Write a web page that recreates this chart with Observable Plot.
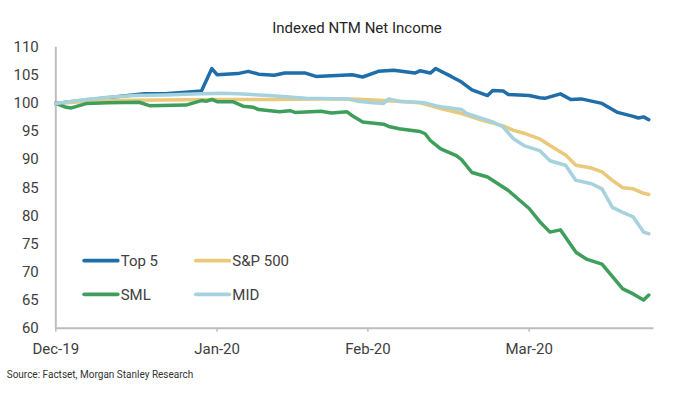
<!DOCTYPE html>
<html>
<head>
<meta charset="utf-8">
<script src="https://cdn.jsdelivr.net/npm/d3@7"></script>
<script src="https://cdn.jsdelivr.net/npm/@observablehq/plot@0.6"></script>
<style>
  html, body { margin: 0; padding: 0; background: #fff; }
  #chart { width: 680px; height: 394px; }
</style>
</head>
<body>
<div id="chart"></div>
<script>
// ---- Data ----
const seriesNames = ["Top 5", "S&P 500", "SML", "MID"];
const seriesColors = ["#1f6ea9", "#e9c97a", "#3e9e5c", "#a6d2dd"];

const top5Dates = ["2019-12-31","2020-01-05","2020-01-10","2020-01-13","2020-01-17","2020-01-21","2020-01-25","2020-01-28","2020-01-30","2020-01-31","2020-02-04","2020-02-06","2020-02-08","2020-02-11","2020-02-13","2020-02-17","2020-02-19","2020-02-24","2020-02-26","2020-02-28","2020-03-02","2020-03-05","2020-03-09","2020-03-10","2020-03-12","2020-03-13","2020-03-16","2020-03-18","2020-03-20","2020-03-23","2020-03-24","2020-03-26","2020-03-27","2020-03-31","2020-04-02","2020-04-03","2020-04-06","2020-04-08","2020-04-10","2020-04-14","2020-04-17","2020-04-20","2020-04-21","2020-04-22","2020-04-23"];
const top5Values = [100.0,100.5,101.0,101.3,101.7,101.7,102.0,102.2,106.2,105.1,105.3,105.7,105.2,105.0,105.4,105.4,104.8,105.0,105.1,104.7,105.7,105.9,105.4,105.8,105.4,106.2,104.8,103.8,102.4,101.4,102.3,102.2,101.6,101.4,101.0,100.9,101.7,100.7,100.8,100.0,98.4,97.7,97.4,97.6,97.1];

const spxDates = ["2019-12-31","2020-01-05","2020-01-10","2020-01-20","2020-01-31","2020-02-10","2020-02-20","2020-02-26","2020-03-03","2020-03-10","2020-03-14","2020-03-18","2020-03-22","2020-03-26","2020-03-28","2020-03-30","2020-04-02","2020-04-04","2020-04-07","2020-04-09","2020-04-12","2020-04-14","2020-04-16","2020-04-18","2020-04-20","2020-04-22","2020-04-23"];
const spxValues = [100.0,100.3,100.5,100.6,100.7,100.7,100.8,100.8,100.5,100.1,99.1,98.2,97.0,96.0,95.2,94.7,93.7,92.5,90.8,89.0,88.5,87.8,86.3,85.0,84.8,84.0,83.8];

const smlDates = ["2019-12-31","2020-01-02","2020-01-03","2020-01-06","2020-01-10","2020-01-16","2020-01-18","2020-01-25","2020-01-28","2020-01-29","2020-01-30","2020-01-31","2020-02-03","2020-02-05","2020-02-07","2020-02-08","2020-02-12","2020-02-14","2020-02-15","2020-02-20","2020-02-22","2020-02-25","2020-02-26","2020-02-28","2020-03-03","2020-03-04","2020-03-06","2020-03-10","2020-03-11","2020-03-12","2020-03-14","2020-03-17","2020-03-18","2020-03-20","2020-03-23","2020-03-27","2020-03-31","2020-04-02","2020-04-04","2020-04-06","2020-04-09","2020-04-11","2020-04-14","2020-04-18","2020-04-20","2020-04-22","2020-04-23"];
const smlValues = [100.0,99.3,99.2,100.0,100.1,100.2,99.6,99.7,100.5,100.4,100.7,100.3,100.3,99.5,99.3,98.9,98.5,98.7,98.4,98.6,98.3,98.5,97.8,96.7,96.3,95.9,95.5,95.0,94.6,93.4,91.9,90.7,90.0,87.7,86.9,84.5,81.3,79.0,77.1,77.5,73.5,72.3,71.4,67.0,66.1,65.0,65.9];

const midDates = ["2019-12-31","2020-01-05","2020-01-10","2020-01-15","2020-01-21","2020-01-28","2020-02-01","2020-02-04","2020-02-10","2020-02-17","2020-02-25","2020-02-27","2020-03-01","2020-03-03","2020-03-04","2020-03-06","2020-03-11","2020-03-13","2020-03-14","2020-03-18","2020-03-19","2020-03-24","2020-03-26","2020-03-28","2020-03-30","2020-04-02","2020-04-04","2020-04-07","2020-04-09","2020-04-12","2020-04-14","2020-04-16","2020-04-18","2020-04-20","2020-04-22","2020-04-23"];
const midValues = [100.0,100.6,101.1,101.4,101.5,101.7,101.8,101.7,101.4,100.9,100.8,100.4,100.1,100.0,100.8,100.4,100.1,99.6,99.4,98.9,98.2,96.7,95.8,93.7,92.5,91.6,89.8,89.0,86.3,85.7,84.8,81.5,80.6,79.8,77.1,76.8];

const xDomain = ["2019-12-31", "2020-04-24"];
const xTickDates = ["2019-12-31", "2020-01-31", "2020-02-29", "2020-03-31"];
const yTicks = [60, 65, 70, 75, 80, 85, 90, 95, 100, 105, 110];
const yDomain = [60, 110];

const titleText = "Indexed NTM Net Income";
const sourceText = "Source: Factset, Morgan Stanley Research";

// ---- Build table ----
const parse = d3.utcParse("%Y-%m-%d");
const seriesDates = [top5Dates, spxDates, smlDates, midDates];
const seriesValues = [top5Values, spxValues, smlValues, midValues];
const data = [];
seriesNames.forEach((name, i) => {
  seriesDates[i].forEach((d, j) => data.push({series: name, date: parse(d), value: seriesValues[i][j]}));
});

const fmt = d3.utcFormat("%b-%y");
const font = "Roboto, 'Noto Sans', sans-serif";
const axisColor = "#bdbdbd";
const textColor = "#404040";

const chart = Plot.plot({
  width: 680,
  height: 394,
  marginLeft: 55.3,
  marginRight: 26.5,
  marginTop: 46.7,
  marginBottom: 66.3,
  style: {fontFamily: font, fontSize: "15px", color: textColor, background: "#fff", overflow: "visible"},
  x: {type: "utc", domain: xDomain.map(parse)},
  y: {domain: yDomain},
  color: {domain: seriesNames, range: seriesColors},
  marks: [
    Plot.ruleY([yDomain[0]], {stroke: axisColor, strokeWidth: 2}),
    Plot.ruleX([parse(xDomain[0])], {y1: yDomain[0], y2: yDomain[1], stroke: axisColor, strokeWidth: 2}),
    Plot.axisY({ticks: yTicks, tickSize: 0, tickPadding: 17, label: null, fill: textColor, fontSize: 15}),
    Plot.axisX({ticks: xTickDates.map(parse), tickFormat: fmt, tickSize: 4, tickPadding: 11, stroke: axisColor, strokeWidth: 1.5, label: null, fill: textColor, fontSize: 15}),
    Plot.lineY(data, {x: "date", y: "value", z: "series", stroke: "series", strokeWidth: 3.5, strokeLinejoin: "round", strokeLinecap: "round"})
  ]
});
document.getElementById("chart").appendChild(chart);

// ---- Title, legend and source added to the same SVG ----
const svg = d3.select(chart);
svg.append("text")
  .attr("x", 357).attr("y", 33)
  .attr("text-anchor", "middle")
  .attr("font-family", font).attr("font-size", 15)
  .attr("fill", "#262626")
  .text(titleText);

const legendPos = [[82.7, 260.7], [194.3, 260.7], [82.7, 294.3], [194.3, 294.3]];
seriesNames.forEach((name, i) => {
  const [lx, ly] = legendPos[i];
  svg.append("line")
    .attr("x1", lx + 1.5).attr("x2", lx + 35).attr("y1", ly).attr("y2", ly)
    .attr("stroke", seriesColors[i]).attr("stroke-width", 3.8).attr("stroke-linecap", "round");
  svg.append("text")
    .attr("x", lx + 38).attr("y", ly).attr("dy", "0.35em")
    .attr("text-anchor", "start")
    .attr("font-family", font).attr("font-size", 15)
    .attr("fill", textColor)
    .text(name);
});

svg.append("text")
  .attr("x", 6.7).attr("y", 378)
  .attr("text-anchor", "start")
  .attr("font-family", font).attr("font-size", 10)
  .attr("fill", "#333")
  .text(sourceText);
</script>
</body>
</html>
